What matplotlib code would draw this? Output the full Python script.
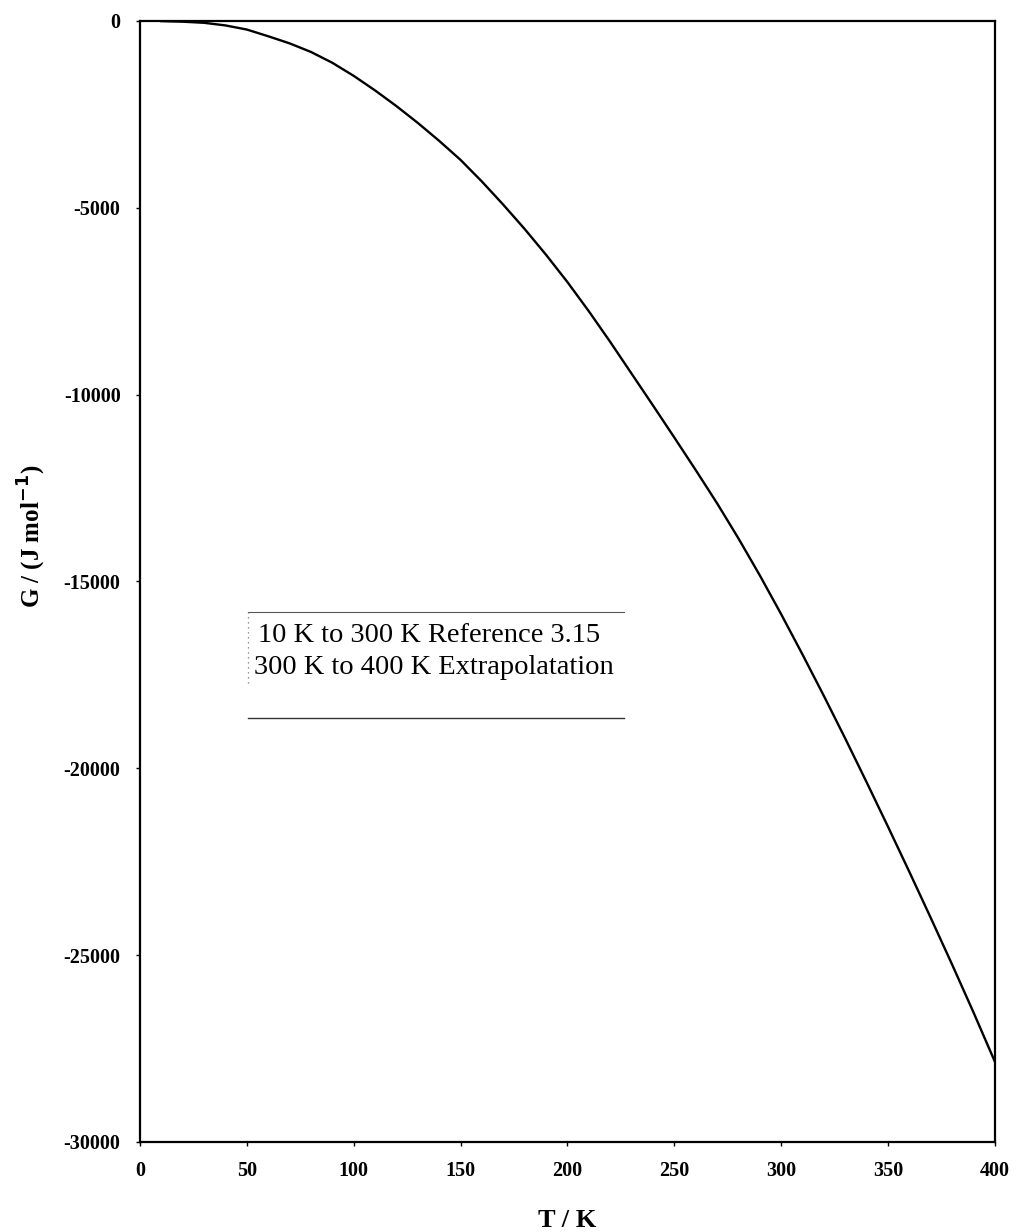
import numpy as np
import matplotlib
matplotlib.use("Agg")
import matplotlib.pyplot as plt
from matplotlib.lines import Line2D

plt.rcParams['font.family'] = ['Liberation Serif', 'DejaVu Serif']

# Temperature (K) and Gibbs energy (J/mol)
temps = [10, 20, 30, 40, 50, 60, 70, 80, 90, 100,
         110, 120, 130, 140, 150, 160, 170, 180, 190, 200,
         210, 220, 230, 240, 250, 260, 270, 280, 290, 300,
         310, 320, 330, 340, 350, 360, 370, 380, 390, 400]
gibbs = [-5, -20, -50, -120, -230, -410, -600, -830, -1120, -1470,
         -1860, -2280, -2730, -3210, -3720, -4300, -4920, -5570, -6260, -6990,
         -7770, -8590, -9440, -10290, -11150, -12020, -12910, -13850, -14840, -15880,
         -16960, -18070, -19210, -20380, -21570, -22780, -24010, -25260, -26540, -27860]

x_ticks = [0, 50, 100, 150, 200, 250, 300, 350, 400]
y_ticks = [0, -5000, -10000, -15000, -20000, -25000, -30000]
legend_lines = ["10 K to 300 K Reference 3.15", "300 K to 400 K Extrapolatation"]

fig = plt.figure(figsize=(10.18, 12.32), dpi=100)
ax = fig.add_axes([0.1375, 0.0731, 0.8399, 0.9099])

ax.plot(temps, gibbs, color='black', lw=1.7)

ax.set_xlim(0, 400)
ax.set_ylim(-30000, 0)
ax.set_xticks(x_ticks)
ax.set_yticks(y_ticks)
ax.set_xticklabels([str(t) for t in x_ticks])
ax.set_yticklabels([str(t) for t in y_ticks])
ax.tick_params(axis='both', length=3, width=1, direction='out', labelsize=14.5, pad=11)
for lbl in ax.get_xticklabels() + ax.get_yticklabels():
    lbl.set_fontweight('bold')
for s in ax.spines.values():
    s.set_linewidth(1.6)

ax.set_xlabel("T / K", fontsize=19, fontweight='bold', labelpad=20)
ax.set_ylabel(r"G / (J mol$^{\mathbf{-1}}$)", fontsize=18, fontweight='bold')
ax.yaxis.set_label_coords(-0.107, 0.54)

# legend-like box holding only text
bx0, bx1 = 0.126, 0.566
by0, by1 = 0.378, 0.473
ax.add_line(Line2D([bx0, bx1], [by1, by1], transform=ax.transAxes, color='#555555', lw=0.8))
ax.add_line(Line2D([bx0, bx1], [by0, by0], transform=ax.transAxes, color='#333333', lw=1.0))
ax.add_line(Line2D([bx0, bx0], [0.409, by1], transform=ax.transAxes, color='#777777',
                   lw=0.9, ls=(0, (1, 3))))
ax.text(0.138, 0.452, legend_lines[0], transform=ax.transAxes, fontsize=20.5, va='center')
ax.text(0.133, 0.423, legend_lines[1], transform=ax.transAxes, fontsize=20.5, va='center')

fig.savefig("out.png", dpi=100)
